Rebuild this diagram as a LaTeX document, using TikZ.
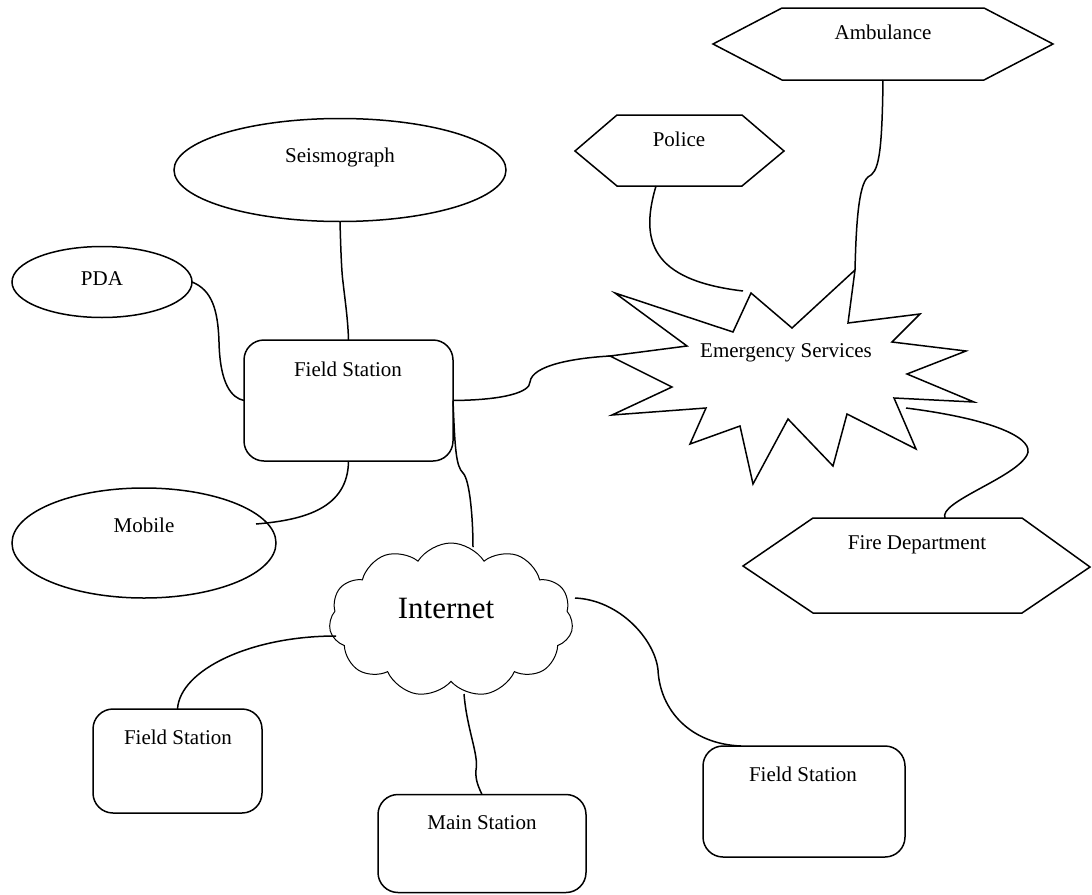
\documentclass[tikz,border=0pt]{standalone}
\usepackage{fontspec}
\setmainfont{Liberation Serif}
\usetikzlibrary{shapes.geometric,shapes.symbols}
\begin{document}
\begin{tikzpicture}[x=1pt,y=-1pt,line width=1.5pt,line join=miter,
  lbl/.style={font=\fontsize{21}{25}\selectfont,anchor=base,inner sep=0pt},
  biglbl/.style={font=\fontsize{31}{36}\selectfont,anchor=base,inner sep=0pt},
  ellip/.style={draw,ellipse,inner sep=0pt,outer sep=0pt,line width=1.5pt},
  box/.style={draw,rectangle,rounded corners=20pt,inner sep=0pt,outer sep=0pt,line width=1.5pt},
  shp/.style={draw,line width=1.5pt},
  conn/.style={line width=1.5pt}]
\useasboundingbox (0,0) rectangle (1092,894);

% ellipses
\node[ellip,minimum width=332pt,minimum height=103pt] (seis) at (340,170) {};
\node[ellip,minimum width=180pt,minimum height=71pt] (pda) at (102,282) {};
\node[ellip,minimum width=264pt,minimum height=110pt] (mob) at (144,543) {};

% boxes
\node[box,minimum width=209pt,minimum height=121pt] (fsm) at (348.5,400.5) {};
\node[box,minimum width=169pt,minimum height=104pt] (fsbl) at (177.5,761) {};
\node[box,minimum width=208pt,minimum height=98pt] (mst) at (482,843.5) {};
\node[box,minimum width=202pt,minimum height=111pt] (fsr) at (804,801.5) {};

% cloud
\node[draw,cloud,cloud puffs=11,cloud puff arc=115,cloud ignores aspect,
      minimum width=244pt,minimum height=154pt,inner sep=0pt,line width=1pt] (inet) at (451,620) {};

% hexagons
\draw[shp] (575,151) -- (617,115) -- (742,115) -- (784,151) -- (742,186) -- (617,186) -- cycle;
\draw[shp] (713,44) -- (782,8) -- (984,8) -- (1053,44) -- (984,80) -- (782,80) -- cycle;
\draw[shp] (743,566) -- (813,518) -- (1022,518) -- (1090,567) -- (1022,613) -- (813,613) -- cycle;

% starburst
\draw[shp] (615,293) -- (733,332) -- (751,293) -- (792,328) -- (855,270) -- (848,323)
  -- (920,314) -- (892,342) -- (966,351) -- (907,374) -- (974,402) -- (894,398)
  -- (916,449) -- (847,414) -- (833,466) -- (788,419) -- (753,484) -- (740,426)
  -- (690,444) -- (706,408) -- (612,415) -- (672,387) -- (610,356) -- (687,346) -- cycle;

% labels
\node[lbl] (seist) at (340,162) {Seismograph};
\node[lbl] (pdat) at (102,285) {PDA};
\node[lbl] (mobt) at (144,532) {Mobile};
\node[lbl] (fsmt) at (348,376) {Field Station};
\node[lbl] (fsblt) at (178,744) {Field Station};
\node[lbl] (mstt) at (482,829) {Main Station};
\node[lbl] (fsrt) at (803,781) {Field Station};
\node[lbl] (polt) at (679,146) {Police};
\node[lbl] (ambt) at (883,39) {Ambulance};
\node[lbl] (firet) at (917,549) {Fire Department};
\node[lbl] (est) at (786,357) {Emergency Services};
\node[biglbl] (inett) at (446,618) {Internet};

% attachment coordinates
\coordinate (mobc) at (256,524);
\coordinate (es1) at (610,356);
\coordinate (espol) at (743,291);
\coordinate (estop) at (855,270);
\coordinate (esfire) at (906,408);
\coordinate (pol1) at (656,186);
\coordinate (amb1) at (883,80);
\coordinate (fire1) at (945,518);
\coordinate (ci1) at (473,547);
\coordinate (ci2) at (336,636);
\coordinate (ci3) at (464,694);
\coordinate (ci4) at (575,598);
\coordinate (fsrc) at (741,746);

% connectors
\draw[conn] (seis.south) .. controls (341,260) and (342,275) .. (343,282)
  .. controls (345,300) and (348,320) .. (fsm.north);
\draw[conn] (pda.east) .. controls (212,290) and (218,310) .. (219,342)
  .. controls (220,385) and (232,398) .. (fsm.west);
\draw[conn] (mobc) .. controls (305,520) and (348,508) .. (fsm.south);
\draw[conn] (fsm.east) .. controls (505,400) and (530,392) .. (530,382)
  .. controls (532,365) and (575,358) .. (es1);
\draw[conn] (fsm.east) .. controls (455,450) and (456,466) .. (463,473)
  .. controls (470,480) and (473,520) .. (ci1);
\draw[conn] (ci2) .. controls (250,636) and (180,670) .. (fsbl.north);
\draw[conn] (ci3) .. controls (467,730) and (479,755) .. (476,770)
  .. controls (475,780) and (479,788) .. (mst.north);
\draw[conn] (ci4) .. controls (620,600) and (655,640) .. (658,670)
  .. controls (660,710) and (690,744) .. (fsrc);
\draw[conn] (pol1) .. controls (640,240) and (650,280) .. (espol);
\draw[conn] (amb1) .. controls (882,160) and (878,172) .. (868,177)
  .. controls (858,185) and (856,230) .. (estop);
\draw[conn] (esfire) .. controls (1000,420) and (1035,440) .. (1027,455)
  .. controls (1015,478) and (938,502) .. (fire1);
\end{tikzpicture}
\end{document}
